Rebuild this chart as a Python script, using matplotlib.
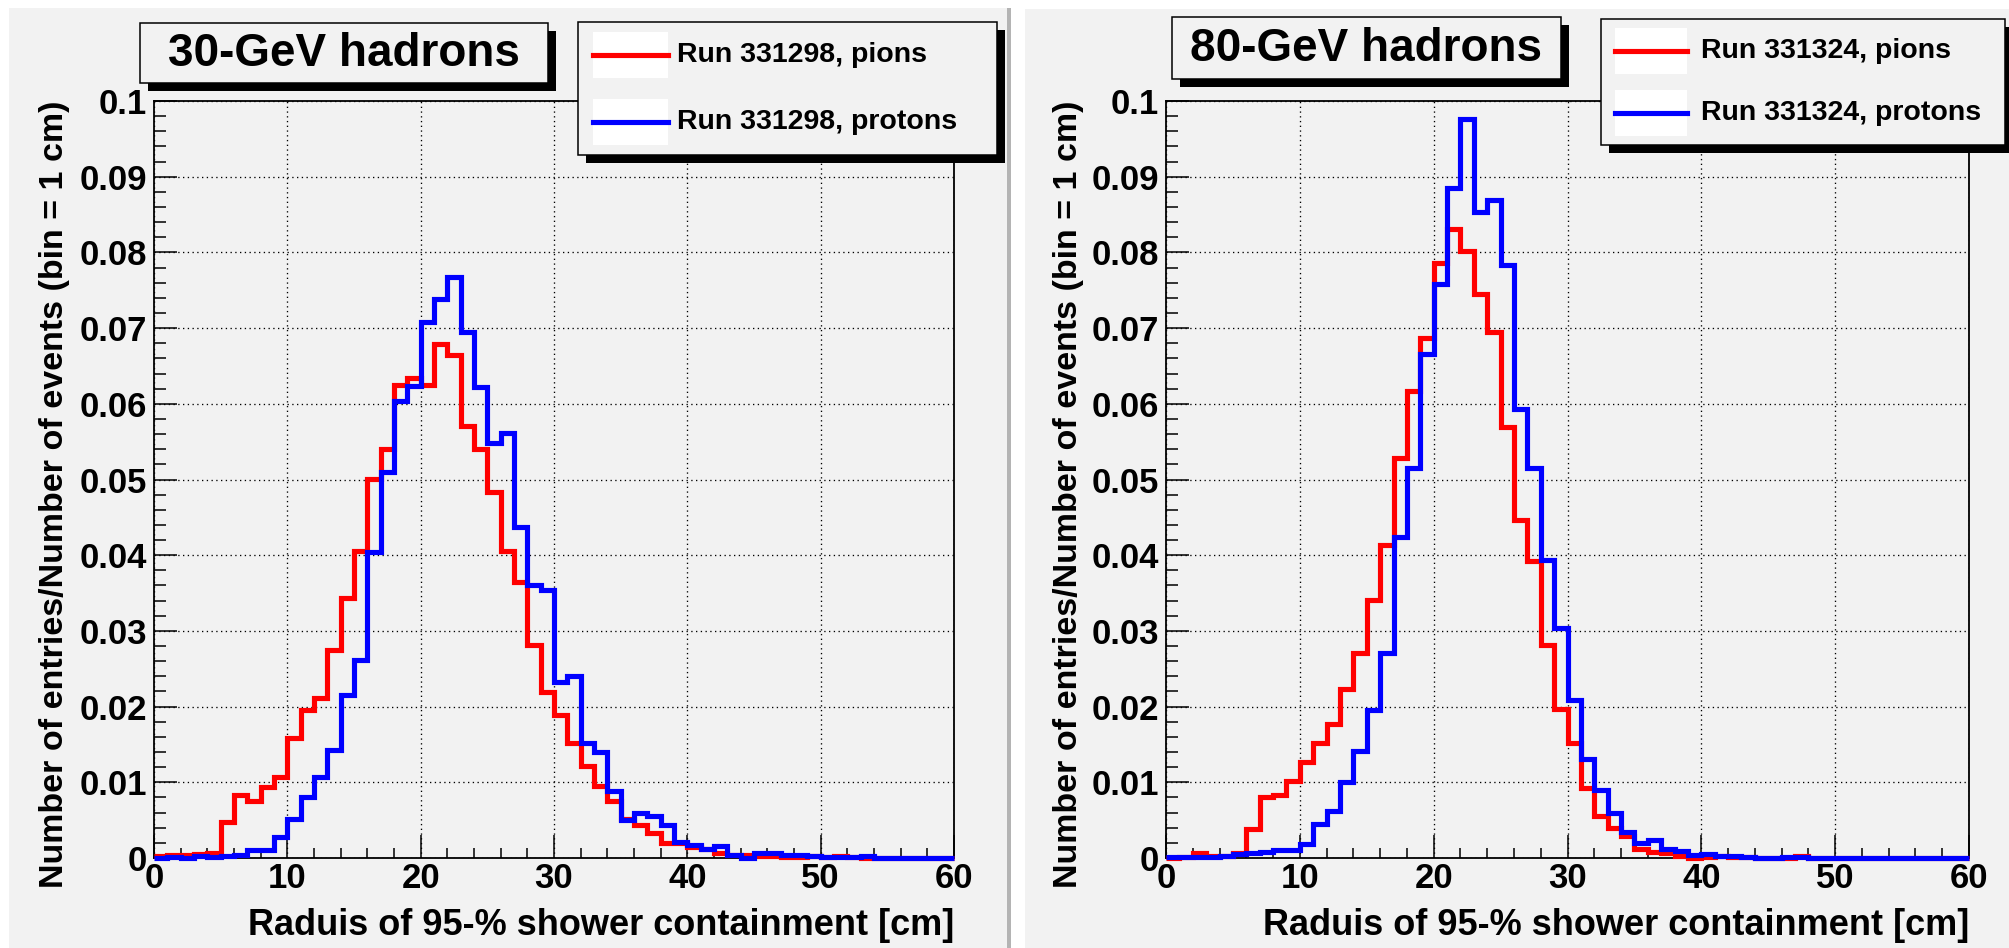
import numpy as np
import matplotlib
matplotlib.use("Agg")
import matplotlib.pyplot as plt
from matplotlib.patches import Rectangle
from matplotlib.lines import Line2D
from matplotlib.ticker import MultipleLocator

plt.rcParams['font.family'] = ['Liberation Sans', 'DejaVu Sans']
plt.rcParams['font.weight'] = 'bold'

# ---- data: fraction of events per 1-cm bin, 0..60 cm ----
bin_edges = np.arange(0, 61, 1)

pions_30 = [0.0003, 0.0004, 0.0004, 0.0005, 0.0007, 0.0048, 0.0083, 0.0075, 0.0094, 0.0107,
            0.0158, 0.0195, 0.0211, 0.0275, 0.0343, 0.0405, 0.0501, 0.0540, 0.0625, 0.0634,
            0.0625, 0.0679, 0.0665, 0.0571, 0.0540, 0.0483, 0.0406, 0.0364, 0.0282, 0.0219,
            0.0189, 0.0152, 0.0121, 0.0095, 0.0075, 0.0051, 0.0043, 0.0033, 0.0020, 0.0020,
            0.0015, 0.0012, 0.0007, 0.0004, 0.0004, 0.0003, 0.0002, 0.0001, 0.0001, 0.0003,
            0.0001, 0.0002, 0.0001, 0.0000, 0.0000, 0.0000, 0.0000, 0.0000, 0.0000, 0.0000]

protons_30 = [0.0000, 0.0001, 0.0000, 0.0002, 0.0001, 0.0002, 0.0004, 0.0010, 0.0011, 0.0028,
              0.0051, 0.0081, 0.0107, 0.0143, 0.0215, 0.0261, 0.0404, 0.0510, 0.0604, 0.0623,
              0.0708, 0.0738, 0.0768, 0.0695, 0.0622, 0.0548, 0.0562, 0.0437, 0.0360, 0.0354,
              0.0232, 0.0240, 0.0152, 0.0140, 0.0089, 0.0050, 0.0059, 0.0055, 0.0043, 0.0021,
              0.0017, 0.0012, 0.0016, 0.0004, 0.0000, 0.0007, 0.0006, 0.0004, 0.0004, 0.0003,
              0.0001, 0.0001, 0.0001, 0.0002, 0.0000, 0.0000, 0.0000, 0.0000, 0.0000, 0.0000]

pions_80 = [0.0000, 0.0001, 0.0006, 0.0003, 0.0003, 0.0006, 0.0038, 0.0081, 0.0083, 0.0102,
            0.0127, 0.0152, 0.0177, 0.0223, 0.0271, 0.0341, 0.0414, 0.0529, 0.0617, 0.0687,
            0.0786, 0.0831, 0.0802, 0.0745, 0.0695, 0.0569, 0.0446, 0.0392, 0.0281, 0.0197,
            0.0152, 0.0093, 0.0056, 0.0039, 0.0029, 0.0012, 0.0008, 0.0007, 0.0002, 0.0000,
            0.0001, 0.0003, 0.0001, 0.0001, 0.0000, 0.0000, 0.0000, 0.0002, 0.0000, 0.0000,
            0.0000, 0.0000, 0.0000, 0.0000, 0.0000, 0.0000, 0.0000, 0.0000, 0.0000, 0.0000]

protons_80 = [0.0001, 0.0001, 0.0001, 0.0001, 0.0003, 0.0005, 0.0006, 0.0008, 0.0010, 0.0011,
              0.0019, 0.0045, 0.0062, 0.0101, 0.0141, 0.0195, 0.0271, 0.0424, 0.0515, 0.0666,
              0.0758, 0.0885, 0.0976, 0.0854, 0.0869, 0.0784, 0.0593, 0.0515, 0.0394, 0.0304,
              0.0209, 0.0131, 0.0090, 0.0059, 0.0034, 0.0020, 0.0024, 0.0012, 0.0009, 0.0004,
              0.0005, 0.0002, 0.0002, 0.0001, 0.0000, 0.0000, 0.0001, 0.0001, 0.0000, 0.0000,
              0.0000, 0.0000, 0.0000, 0.0000, 0.0000, 0.0000, 0.0000, 0.0000, 0.0000, 0.0000]

panel_titles = ["30-GeV hadrons", "80-GeV hadrons"]
legend_labels = [["Run 331298, pions", "Run 331298, protons"],
                 ["Run 331324, pions", "Run 331324, protons"]]
x_title = "Raduis of 95-% shower containment [cm]"
y_title = "Number of entries/Number of events (bin = 1 cm)"
x_ticks = [0, 10, 20, 30, 40, 50, 60]
x_tick_labels = ["0", "10", "20", "30", "40", "50", "60"]
y_ticks = [0.0, 0.01, 0.02, 0.03, 0.04, 0.05, 0.06, 0.07, 0.08, 0.09, 0.1]
y_tick_labels = ["0", "0.01", "0.02", "0.03", "0.04", "0.05", "0.06", "0.07", "0.08", "0.09", "0.1"]

# ---- canvas ----
W, H = 2009, 948
PAD = '#f2f2f2'
RED = '#ff0000'
BLUE = '#0000ff'

fig = plt.figure(figsize=(W / 100, H / 100), dpi=100)
fig.patch.set_facecolor('white')


def frac(x0, y0, x1, y1):
    """Pixel box (origin top-left) -> figure rect."""
    return [x0 / W, 1 - y1 / H, (x1 - x0) / W, (y1 - y0) / H]


# pad backgrounds
bg = fig.add_axes([0, 0, 1, 1], zorder=-5)
bg.set_xlim(0, W)
bg.set_ylim(H, 0)
bg.axis('off')
bg.add_patch(Rectangle((9, 8), 1002, 945, fc=PAD, ec='none'))
bg.add_patch(Rectangle((1007, 8), 4, 945, fc='#b4b4b4', ec='none'))
bg.add_patch(Rectangle((1025, 9), 990, 945, fc=PAD, ec='none'))

# overlay for title boxes and legends
ov = fig.add_axes([0, 0, 1, 1], zorder=10)
ov.set_xlim(0, W)
ov.set_ylim(H, 0)
ov.axis('off')
ov.patch.set_alpha(0)


def shadow_box(x0, y0, x1, y1, off):
    ov.add_patch(Rectangle((x0 + off, y0 + off), x1 - x0, y1 - y0, fc='black', ec='none'))
    ov.add_patch(Rectangle((x0, y0), x1 - x0, y1 - y0, fc=PAD, ec='black', lw=1.1))


panels = [
    dict(frame=(154, 101, 954, 858), pions=pions_30, protons=protons_30,
         title_box=(140, 23, 548, 83), leg_box=(578, 22, 997, 155),
         leg_rows=(55, 122), leg_x=(593, 668, 677), ylab_x=55),
    dict(frame=(1166, 101, 1969, 858), pions=pions_80, protons=protons_80,
         title_box=(1172, 17, 1561, 79), leg_box=(1601, 19, 2005, 145),
         leg_rows=(51, 113), leg_x=(1615, 1687, 1701), ylab_x=1068),
]

for i, p in enumerate(panels):
    x0, y0, x1, y1 = p['frame']
    ax = fig.add_axes(frac(x0, y0, x1, y1))
    ax.set_facecolor(PAD)
    ax.stairs(p['pions'], bin_edges, baseline=None, color=RED, lw=3.7, clip_on=False, zorder=3)
    ax.stairs(p['protons'], bin_edges, baseline=None, color=BLUE, lw=3.7, clip_on=False, zorder=4)
    ax.set_xlim(0, 60)
    ax.set_ylim(0, 0.1)
    ax.set_xticks(x_ticks)
    ax.set_xticklabels(x_tick_labels)
    ax.set_yticks(y_ticks)
    ax.set_yticklabels(y_tick_labels)
    ax.xaxis.set_minor_locator(MultipleLocator(2))
    ax.yaxis.set_minor_locator(MultipleLocator(0.002))
    ax.tick_params(which='both', direction='in', top=False, right=False, width=1.1, color='black')
    ax.tick_params(which='major', length=16.5, labelsize=25)
    ax.tick_params(axis='x', which='major', pad=3)
    ax.tick_params(axis='y', which='major', pad=5)
    ax.tick_params(axis='x', which='minor', length=7.5)
    ax.tick_params(axis='y', which='minor', length=8.5)
    ax.grid(True, which='major', color='black', linestyle=(0, (1, 2.6)), lw=0.95)
    ax.set_axisbelow(True)
    for s in ax.spines.values():
        s.set_linewidth(1.3)
        s.set_color('black')

    # axis titles
    fig.text(x1 / W, 1 - 935 / H, x_title, ha='right', va='baseline', fontsize=26)
    fig.text(p['ylab_x'] / W, 1 - 101 / H, y_title, rotation=90, ha='center', va='top',
             fontsize=24.5)

    # title box
    tx0, ty0, tx1, ty1 = p['title_box']
    shadow_box(tx0, ty0, tx1, ty1, 8)
    ov.text((tx0 + tx1) / 2, (ty0 + ty1) / 2 + 1, panel_titles[i], ha='center', va='center',
            fontsize=33)

    # legend
    lx0, ly0, lx1, ly1 = p['leg_box']
    shadow_box(lx0, ly0, lx1, ly1, 8)
    bx0, bx1, txt_x = p['leg_x']
    for row_y, col, lab in zip(p['leg_rows'], (RED, BLUE), legend_labels[i]):
        ov.add_patch(Rectangle((bx0, row_y - 23), bx1 - bx0, 46, fc='white', ec='none'))
        ov.add_line(Line2D([bx0, bx1], [row_y, row_y], color=col, lw=3.7))
        ov.text(txt_x, row_y, lab, ha='left', va='center', fontsize=20.5)

fig.savefig('out.png', dpi=100, facecolor=fig.get_facecolor())
